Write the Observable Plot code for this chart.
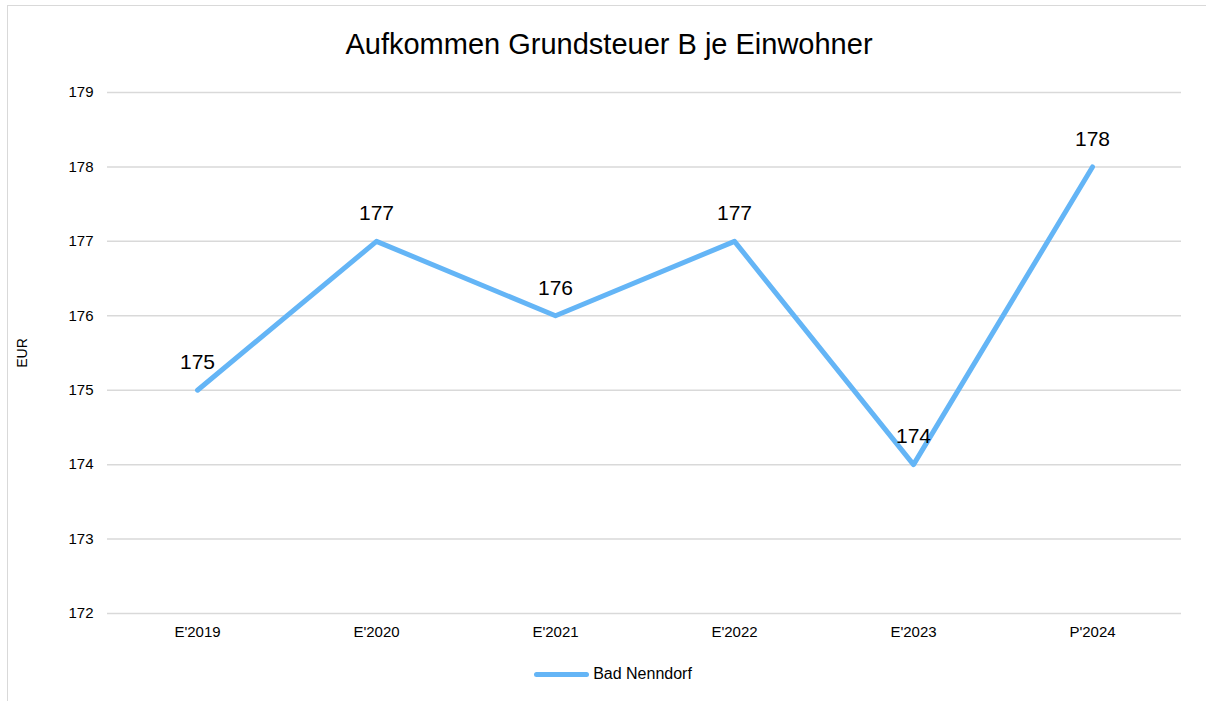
<!DOCTYPE html>
<html>
<head>
<meta charset="utf-8">
<script src="https://cdn.jsdelivr.net/npm/d3@7"></script>
<script src="https://cdn.jsdelivr.net/npm/@observablehq/plot@0.6"></script>
<style>
  html, body { margin: 0; padding: 0; background: #fff; }
  body { font-family: "Liberation Sans", Arial, sans-serif; width: 1206px; height: 701px; overflow: hidden; position: relative; }
  #frame { position: absolute; left: 7px; top: 5px; width: 1200px; height: 720px; border: 1.5px solid #d9d9d9; box-sizing: border-box; }
  #title { position: relative; height: 75px; line-height: 88px; text-align: center; font-size: 29px; color: #000; padding-left: 12px; }
  #legend { position: relative; height: 38px; display: flex; justify-content: center; align-items: center; font-size: 16px; color: #000; padding-left: 20px; }
  #legend .sw { display: inline-block; width: 55px; height: 5px; border-radius: 3px; background: #64b5f6; margin-right: 4px; }
  #chart svg { display: block; }
</style>
</head>
<body>
<div id="frame"></div>
<div id="title">Aufkommen Grundsteuer B je Einwohner</div>
<div id="chart"></div>
<div id="legend"><span class="sw"></span><span>Bad Nenndorf</span></div>
<script>
const categories = ["E'2019", "E'2020", "E'2021", "E'2022", "E'2023", "P'2024"];
const values = [175, 177, 176, 177, 174, 178];
const yTicks = [172, 173, 174, 175, 176, 177, 178, 179];
const seriesName = "Bad Nenndorf";
const yLabel = "EUR";

const data = categories.map((c, i) => ({cat: c, value: values[i], series: seriesName}));

const chart = Plot.plot({
  width: 1206,
  height: 580,
  marginLeft: 107,
  marginRight: 25,
  marginTop: 17,
  marginBottom: 42,
  style: { fontFamily: "'Liberation Sans', Arial, sans-serif", background: "transparent" },
  x: { type: "point", domain: categories, padding: 0.5 },
  y: { domain: [172, 179] },
  marks: [
    Plot.ruleY(yTicks, { stroke: "#d9d9d9", strokeWidth: 1.5 }),
    Plot.axisY({ ticks: yTicks, tickFormat: "d", tickSize: 0, tickPadding: 14, fontSize: 15, label: null }),
    Plot.axisY({ ticks: [], tickSize: 0, fontSize: 14, label: yLabel, labelAnchor: "center", labelOffset: 90, labelArrow: "none" }),
    Plot.axisX({ tickSize: 0, tickPadding: 13, fontSize: 15, label: null }),
    Plot.line(data, { x: "cat", y: "value", stroke: "#64b5f6", strokeWidth: 5, strokeLinecap: "round", strokeLinejoin: "round" }),
    Plot.text(data, { x: "cat", y: "value", text: d => String(d.value), dy: -28, fontSize: 21, fill: "#000" })
  ]
});
document.getElementById("chart").appendChild(chart);
</script>
</body>
</html>
